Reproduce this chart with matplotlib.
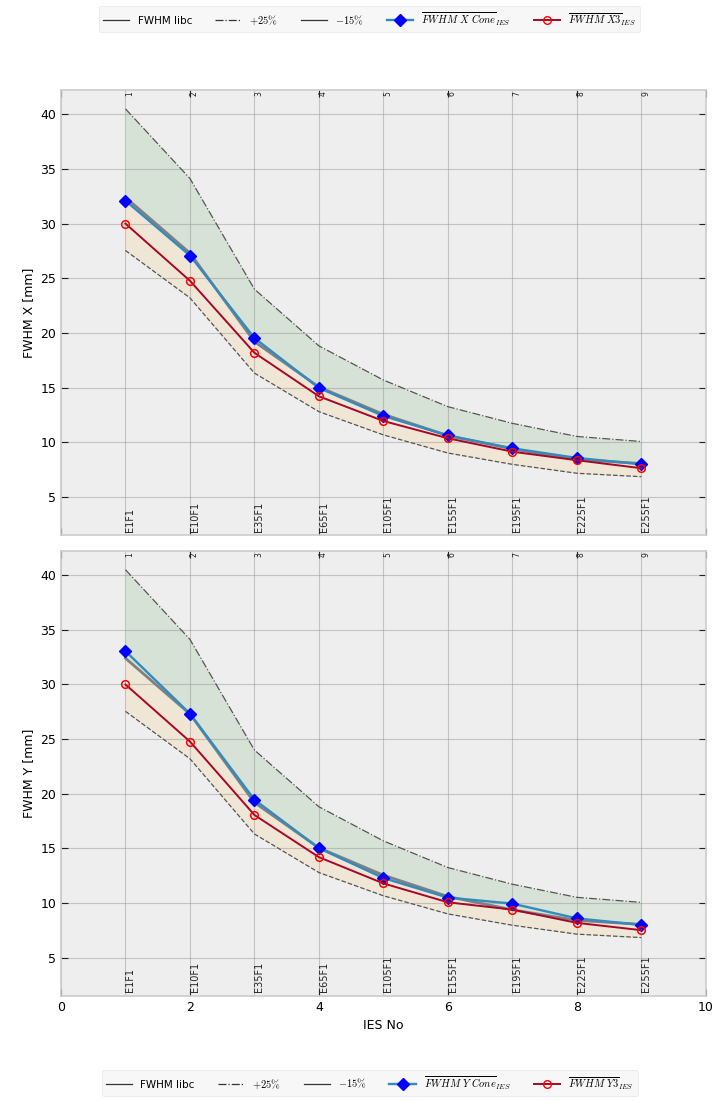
import matplotlib
matplotlib.use("Agg")
import matplotlib.pyplot as plt
import matplotlib.transforms as mtransforms
from matplotlib.lines import Line2D

plt.style.use("bmh")
plt.rcParams["mathtext.fontset"] = "cm"

ies_no = [1, 2, 3, 4, 5, 6, 7, 8, 9]
ies_names = ["E1F1", "E10F1", "E35F1", "E65F1", "E105F1", "E155F1", "E195F1", "E225F1", "E255F1"]
top_labels = ["1", "2", "3", "4", "5", "6", "7", "8", "9"]

fwhm_libc = [32.4, 27.3, 19.2, 15.05, 12.55, 10.6, 9.38, 8.42, 8.05]
fwhm_x_cone = [32.1, 27.08, 19.53, 14.96, 12.4, 10.62, 9.44, 8.56, 7.98]
fwhm_x3 = [30.0, 24.77, 18.18, 14.2, 11.94, 10.36, 9.13, 8.35, 7.62]
fwhm_y_cone = [33.05, 27.33, 19.46, 15.02, 12.29, 10.5, 9.95, 8.6, 8.0]
fwhm_y3 = [30.0, 24.78, 18.06, 14.2, 11.8, 10.07, 9.4, 8.19, 7.52]

upper_fac = 1.25
lower_fac = 0.85

fig = plt.figure(figsize=(7.22, 11.01), dpi=100)
fig.patch.set_facecolor("white")
ax1 = fig.add_axes([0.0845, 0.514, 0.893, 0.404])
ax2 = fig.add_axes([0.0845, 0.0954, 0.893, 0.404])


def draw(ax, cone, ies3, axis_name, show_xlabels):
    up = [v * upper_fac for v in fwhm_libc]
    lo = [v * lower_fac for v in fwhm_libc]
    ax.fill_between(ies_no, fwhm_libc, up, color="green", alpha=0.1, lw=0)
    ax.fill_between(ies_no, lo, fwhm_libc, color="orange", alpha=0.1, lw=0)
    ax.plot(ies_no, fwhm_libc, color="gray", lw=2.0, zorder=3)
    ax.plot(ies_no, up, color="#555555", lw=0.9, ls="-.", zorder=3)
    ax.plot(ies_no, lo, color="#555555", lw=0.9, ls="--", zorder=3)
    ax.plot(ies_no, cone, color="#348ABD", lw=1.7, marker="D", ms=6.5,
            mfc="blue", mec="blue", zorder=4)
    ax.plot(ies_no, ies3, color="#A60628", lw=1.4, marker="o", ms=5.5,
            mfc="none", mec="red", mew=1.1, zorder=5)
    ax.set_xlim(0, 10)
    ax.set_ylim(1.5, 42.2)
    ax.set_yticks([5, 10, 15, 20, 25, 30, 35, 40])
    ax.set_xticks([0, 2, 4, 6, 8, 10])
    ax.set_xticks(ies_no, minor=True)
    ax.tick_params(which="minor", length=0)
    ax.tick_params(which="major", direction="in", top=True, right=True,
                   labelsize=9, length=5, color="#222222")
    ax.grid(True, which="major", ls="-", lw=0.8, color="#999999", alpha=0.5)
    ax.xaxis.grid(True, which="minor", ls="-", lw=0.8, color="#999999", alpha=0.5)
    for sp in ax.spines.values():
        sp.set_color("#cccccc")
        sp.set_linewidth(1.2)
    ax.set_ylabel("FWHM %s [mm]" % axis_name, fontsize=9)
    trans = mtransforms.blended_transform_factory(ax.transData, ax.transAxes)
    for x, name in zip(ies_no, ies_names):
        ax.text(x, 0.008, name, rotation=90, ha="left", va="bottom",
                fontsize=7, transform=trans, color="#222222")
    for x, lab in zip(ies_no, top_labels):
        ax.text(x, 0.997, lab, rotation=90, ha="left", va="top",
                fontsize=5.5, transform=trans, color="#222222")
    if show_xlabels:
        ax.set_xlabel("IES No", fontsize=9)
    else:
        ax.tick_params(axis="x", labelbottom=False)


draw(ax1, fwhm_x_cone, fwhm_x3, "X", False)
draw(ax2, fwhm_y_cone, fwhm_y3, "Y", True)


def handles(axis_name):
    h = [
        Line2D([], [], color="#333333", lw=0.9, ls="-"),
        Line2D([], [], color="#333333", lw=0.9, ls="-."),
        Line2D([], [], color="#333333", lw=0.9, ls="-"),
        Line2D([], [], color="#348ABD", lw=1.7, marker="D", ms=6.5, mfc="blue", mec="blue"),
        Line2D([], [], color="#A60628", lw=1.4, marker="o", ms=5.5, mfc="none", mec="red"),
    ]
    labels = [
        "FWHM libc",
        r"$+25\%$",
        r"$-15\%$",
        r"$\overline{FWHM\ %s\ Cone}_{IES}$" % axis_name,
        r"$\overline{FWHM\ %s3}_{IES}$" % axis_name,
    ]
    return h, labels


h, l = handles("X")
fig.legend(h, l, loc="upper center", bbox_to_anchor=(0.512, 0.999), ncol=5,
           fontsize=7.5, frameon=True, facecolor="#f7f7f7", edgecolor="#e6e6e6",
           framealpha=1.0, handlelength=2.5, columnspacing=2.2)
h, l = handles("Y")
fig.legend(h, l, loc="lower center", bbox_to_anchor=(0.512, 0.0), ncol=5,
           fontsize=7.5, frameon=True, facecolor="#f7f7f7", edgecolor="#e6e6e6",
           framealpha=1.0, handlelength=2.5, columnspacing=2.2)

fig.savefig("out.png", dpi=100)
